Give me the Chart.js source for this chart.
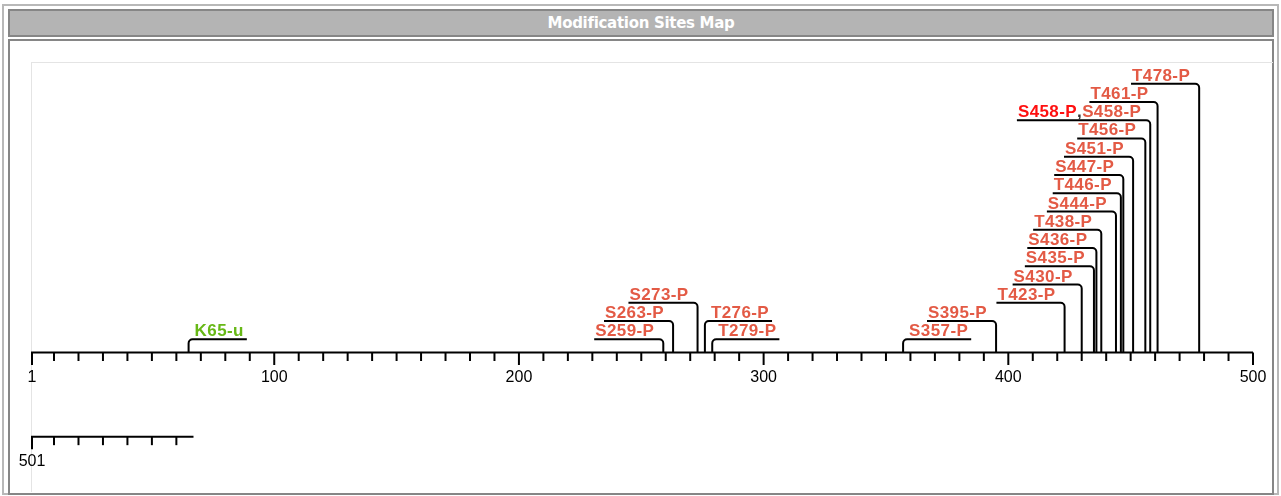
<!DOCTYPE html>
<html><head><meta charset="utf-8">
<script src="https://cdn.jsdelivr.net/npm/chart.js@4"></script>
<style>
html,body{margin:0;padding:0;background:#fff;width:1281px;height:496px;overflow:hidden;}
.box{position:absolute;box-sizing:border-box;}
#outer{left:2px;top:4px;width:1277px;height:491px;border:2px solid #b8b8b8;}
#title{left:8px;top:9px;width:1266px;height:28px;border:2px solid #868686;background:#b4b4b4;color:#fff;
 font:bold 15px "DejaVu Sans",Verdana,sans-serif;text-align:center;line-height:24px;letter-spacing:-0.3px;}
#panel{left:8px;top:39px;width:1266px;height:456px;border:2px solid #868686;background:#fff;}
#frame{left:31px;top:62px;width:1242px;height:430px;border-top:1px solid #e4e4e4;border-left:1px solid #e4e4e4;}
canvas{position:absolute;left:0;top:0;}
</style></head>
<body>
<div class="box" id="outer"></div>
<div class="box" id="title">Modification Sites Map</div>
<div class="box" id="panel"></div>
<div class="box" id="frame"></div>
<canvas id="c" width="1281" height="496"></canvas>
<script>
// ---- data ----
const sequenceLength = 567;
const rowLength = 500;
const majorTickValues = [1, 100, 200, 300, 400, 500];
const minorTickStep = 10;
const sitePositions = [65, 259, 263, 273, 276, 279, 357, 395, 423, 430, 435, 436, 438, 444, 446, 447, 451, 456, 458, 461, 478];
const siteLabels = ['K65-u', 'S259-P', 'S263-P', 'S273-P', 'T276-P', 'T279-P', 'S357-P', 'S395-P', 'T423-P', 'S430-P', 'S435-P', 'S436-P', 'T438-P', 'S444-P', 'T446-P', 'S447-P', 'S451-P', 'T456-P', 'S458-P,S458-P', 'T461-P', 'T478-P'];
const siteLanes = [1, 1, 2, 3, 2, 1, 1, 2, 3, 4, 5, 6, 7, 8, 9, 10, 11, 12, 13, 14, 15];
const siteSides = ['right', 'left', 'left', 'left', 'right', 'right', 'right', 'left', 'left', 'left', 'left', 'left', 'left', 'left', 'left', 'left', 'left', 'left', 'left', 'left', 'left'];
const highlightedSites = [458];

// ---- styling ----
const COLORS = { P: '#e35a45', u: '#67b816', highlight: '#ff1010', sep: '#333', line: '#000' };
const LABEL_FONT = 'bold 17px "Liberation Sans", Arial, sans-serif';
const TICK_FONT = '16px "Liberation Sans", Arial, sans-serif';
const AXIS_LANE = 0.28, ROW2_LANE = -4.33;

function modColor(label) { return label.endsWith('-u') ? COLORS.u : COLORS.P; }

const sitesPlugin = {
  id: 'sites',
  afterDatasetsDraw(chart) {
    const ctx = chart.ctx, xs = chart.scales.x, ys = chart.scales.y;
    ctx.save();
    ctx.strokeStyle = COLORS.line; ctx.fillStyle = COLORS.line;
    ctx.lineWidth = 2; ctx.lineCap = 'butt';
    // axis rows
    const rows = [{ start: 1, end: Math.min(rowLength, sequenceLength), lane: AXIS_LANE, offset: 0 },
                  { start: rowLength + 1, end: sequenceLength, lane: ROW2_LANE, offset: rowLength }];
    rows.forEach(r => {
      const by = ys.getPixelForValue(r.lane);
      const x0 = xs.getPixelForValue(r.start - r.offset), x1 = xs.getPixelForValue(r.end - r.offset);
      ctx.beginPath(); ctx.moveTo(x0 - 1, by); ctx.lineTo(x1, by); ctx.stroke();
      const ticks = [];
      ticks.push({ v: r.start, major: true });
      for (let v = r.offset + minorTickStep; v <= r.end; v += minorTickStep) {
        ticks.push({ v, major: majorTickValues.includes(v) });
      }
      ctx.font = TICK_FONT; ctx.textAlign = 'center'; ctx.textBaseline = 'alphabetic';
      ticks.forEach(t => {
        const tx = xs.getPixelForValue(t.v - r.offset);
        ctx.beginPath(); ctx.moveTo(tx, by); ctx.lineTo(tx, by + (t.major ? 12.5 : 8.5)); ctx.stroke();
        if (t.major) { ctx.fillStyle = '#000'; ctx.fillText(String(t.v), tx, by + 29.5); }
      });
    });
    // sites
    const baseY = ys.getPixelForValue(AXIS_LANE);
    ctx.font = LABEL_FONT;
    ctx.letterSpacing = '0.4px';
    const rad = 4;
    sitePositions.forEach((pos, i) => {
      const sx = xs.getPixelForValue(pos);
      const ly = ys.getPixelForValue(siteLanes[i]);
      const parts = siteLabels[i].split(',');
      const segs = [];
      parts.forEach((p, k) => {
        let col = modColor(p);
        if (k === 0 && parts.length > 1 && highlightedSites.includes(pos)) col = COLORS.highlight;
        if (k > 0) segs.push({ t: ',', c: COLORS.sep });
        segs.push({ t: p, c: col });
      });
      let w = 0; segs.forEach(s => { s.w = ctx.measureText(s.t).width; w += s.w; });
      let tx, lx0, lx1;
      if (siteSides[i] === 'left') { tx = sx - 9 - w; lx0 = tx - 1; lx1 = sx; }
      else { tx = sx + 6; lx0 = sx; lx1 = tx + w + 3; }
      // stem + leader
      ctx.strokeStyle = COLORS.line; ctx.lineWidth = 2;
      ctx.beginPath();
      ctx.moveTo(sx, baseY);
      ctx.lineTo(sx, ly + rad);
      if (siteSides[i] === 'left') { ctx.arcTo(sx, ly, sx - rad, ly, rad); ctx.lineTo(lx0, ly); }
      else { ctx.arcTo(sx, ly, sx + rad, ly, rad); ctx.lineTo(lx1, ly); }
      ctx.stroke();
      // label text
      ctx.textAlign = 'left'; ctx.textBaseline = 'alphabetic';
      let cx = tx;
      segs.forEach(s => { ctx.fillStyle = s.c; ctx.fillText(s.t, cx, ly - 3); cx += s.w; });
    });
    ctx.restore();
  }
};

new Chart(document.getElementById('c'), {
  type: 'scatter',
  data: { datasets: [{ data: sitePositions.map((p, i) => ({ x: p, y: siteLanes[i] })), pointRadius: 0, showLine: false }] },
  options: {
    responsive: false, animation: false, devicePixelRatio: 1,
    layout: { padding: { left: 32, right: 28, top: 83.7, bottom: 138.4 } },
    scales: {
      x: { type: 'linear', min: 1, max: rowLength, display: false },
      y: { type: 'linear', min: 0, max: 15, display: false }
    },
    plugins: { legend: { display: false }, tooltip: { enabled: false }, title: { display: false } }
  },
  plugins: [sitesPlugin]
});
</script>
</body></html>
